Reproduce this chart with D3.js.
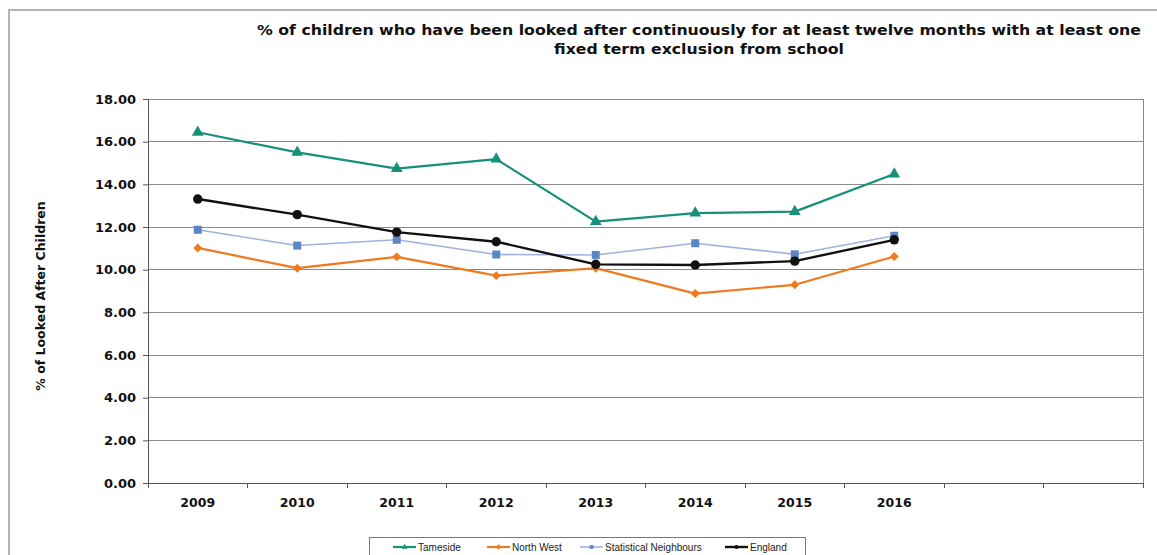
<!DOCTYPE html>
<html><head><meta charset="utf-8">
<script src="https://cdn.jsdelivr.net/npm/d3@7"></script>
<style>html,body{margin:0;padding:0;background:#fff;} svg{display:block;}</style>
</head><body>
<svg id="chart" width="1157" height="555"></svg>
<script>
const categories = ["2009","2010","2011","2012","2013","2014","2015","2016","slot9","slot10"];
const tickLabels = ["2009","2010","2011","2012","2013","2014","2015","2016","",""];
const years = ["2009","2010","2011","2012","2013","2014","2015","2016"];
const tameside = [16.44, 15.50, 14.74, 15.18, 12.25, 12.65, 12.72, 14.48];
const northWest = [11.02, 10.07, 10.60, 9.72, 10.07, 8.88, 9.29, 10.62];
const statNeighbours = [11.87, 11.13, 11.40, 10.71, 10.69, 11.24, 10.72, 11.59];
const england = [13.31, 12.58, 11.76, 11.31, 10.25, 10.22, 10.40, 11.40];
const yTicks = [0,2,4,6,8,10,12,14,16,18];
const seriesNames = ["Tameside","North West","Statistical Neighbours","England"];
const titleLines = ["% of children who have been looked after continuously for at least twelve months with at least one","fixed term exclusion from school"];
const yTitle = "% of Looked After Children";

const series = [
  {name: seriesNames[0], values: tameside, color: "#17907a", marker: "triangle", width: 2.2},
  {name: seriesNames[1], values: northWest, color: "#ee7a1f", marker: "diamond", width: 2.2},
  {name: seriesNames[2], values: statNeighbours, color: "#9fb2dc", marker: "square", mcolor: "#5b86c4", width: 1.6},
  {name: seriesNames[3], values: england, color: "#111111", marker: "circle", width: 2.4}
];

const svg = d3.select("#chart");
const L = 148, R = 1143, T = 99, B = 483;
const x = d3.scaleBand().domain(categories).range([L, R]).padding(0);
const y = d3.scaleLinear().domain([0, 18]).range([B, T]);

// outer frame
svg.append("path").attr("d", `M9,555 V10 H1157`).attr("fill","none").attr("stroke","#b4b4b4").attr("stroke-width",2);

// title
const title = svg.append("text").attr("font-family","DejaVu Sans").attr("font-weight","bold")
  .attr("font-size",13.5).attr("fill","#111").attr("text-anchor","middle");
title.append("tspan").attr("x",699).attr("y",35).text(titleLines[0])
  .attr("textLength",884).attr("lengthAdjust","spacingAndGlyphs");
title.append("tspan").attr("x",699).attr("y",54).text(titleLines[1])
  .attr("textLength",290).attr("lengthAdjust","spacingAndGlyphs");

// gridlines
svg.append("g").selectAll("line").data(yTicks.filter(d => d > 0)).join("line")
  .attr("x1", L).attr("x2", R).attr("y1", d => y(d)).attr("y2", d => y(d))
  .attr("stroke","#8a8a8a").attr("stroke-width",1).attr("shape-rendering","crispEdges");

// plot border
svg.append("rect").attr("x",L).attr("y",T).attr("width",R-L).attr("height",B-T)
  .attr("fill","none").attr("stroke","#8a8a8a").attr("stroke-width",1).attr("shape-rendering","crispEdges");

// y axis
const yAxis = svg.append("g").attr("transform",`translate(${L},0)`)
  .call(d3.axisLeft(y).tickValues(yTicks).tickFormat(d3.format(".2f")).tickSize(5).tickPadding(7));
yAxis.select(".domain").attr("stroke","#555");
yAxis.selectAll(".tick line").attr("stroke","#555");
yAxis.selectAll("text").attr("font-family","DejaVu Sans").attr("font-weight","bold").attr("font-size",13).attr("fill","#111");

// x axis
const xg = svg.append("g").attr("transform",`translate(0,${B})`);
xg.append("line").attr("x1",L-5).attr("x2",R).attr("stroke","#555").attr("shape-rendering","crispEdges");
const bounds = categories.map(c => x(c)).concat([x.range()[1]]);
xg.selectAll("line.tk").data(bounds).join("line").attr("class","tk")
  .attr("x1",d=>d).attr("x2",d=>d).attr("y1",0).attr("y2",5).attr("stroke","#555").attr("shape-rendering","crispEdges");
xg.selectAll("text").data(categories).join("text")
  .attr("x", d => x(d) + x.bandwidth()/2).attr("y", 24)
  .attr("text-anchor","middle").attr("font-family","DejaVu Sans").attr("font-weight","bold")
  .attr("font-size",12.5).attr("fill","#111")
  .text((d,i) => tickLabels[i]);

// y title
svg.append("text").attr("transform","translate(45,296) rotate(-90)").attr("text-anchor","middle")
  .attr("font-family","DejaVu Sans").attr("font-weight","bold").attr("font-size",12.5).attr("fill","#111")
  .text(yTitle);

// series
const cx = d => x(d) + x.bandwidth()/2;
const line = d3.line().x((d,i) => cx(years[i])).y(d => y(d));
const symType = {triangle: d3.symbolTriangle, diamond: d3.symbolSquare, square: d3.symbolSquare, circle: d3.symbolCircle};
const symSize = {triangle: 60, diamond: 40, square: 64, circle: 70};
const symRot = {triangle: 0, diamond: 45, square: 0, circle: 0};
series.forEach(s => {
  svg.append("path").datum(s.values).attr("d", line).attr("fill","none")
    .attr("stroke", s.color).attr("stroke-width", s.width).attr("stroke-linejoin","round");
  svg.append("g").selectAll("path").data(s.values).join("path")
    .attr("transform",(d,i) => `translate(${cx(years[i])},${y(d)}) rotate(${symRot[s.marker]})`)
    .attr("d", d3.symbol().type(symType[s.marker]).size(symSize[s.marker]))
    .attr("fill", s.mcolor || s.color);
});

// legend
const lg = svg.append("g");
lg.append("rect").attr("x",369.5).attr("y",537.5).attr("width",436).attr("height",30)
  .attr("fill","#fff").attr("stroke","#777").attr("stroke-width",1);
const legX = [393, 487, 580, 725];
series.forEach((s,i) => {
  const g = lg.append("g").attr("transform",`translate(${legX[i]},547)`);
  g.append("line").attr("x1",0).attr("x2",23).attr("stroke",s.color).attr("stroke-width",s.width);
  g.append("path").attr("transform",`translate(11.5,0) rotate(${symRot[s.marker]})`)
    .attr("d", d3.symbol().type(symType[s.marker]).size(14)).attr("fill", s.mcolor || s.color);
  g.append("text").attr("x",25).attr("y",3.5).attr("font-family","Liberation Sans").attr("font-size",10)
    .attr("fill","#222").text(s.name);
});
</script>
</body></html>
